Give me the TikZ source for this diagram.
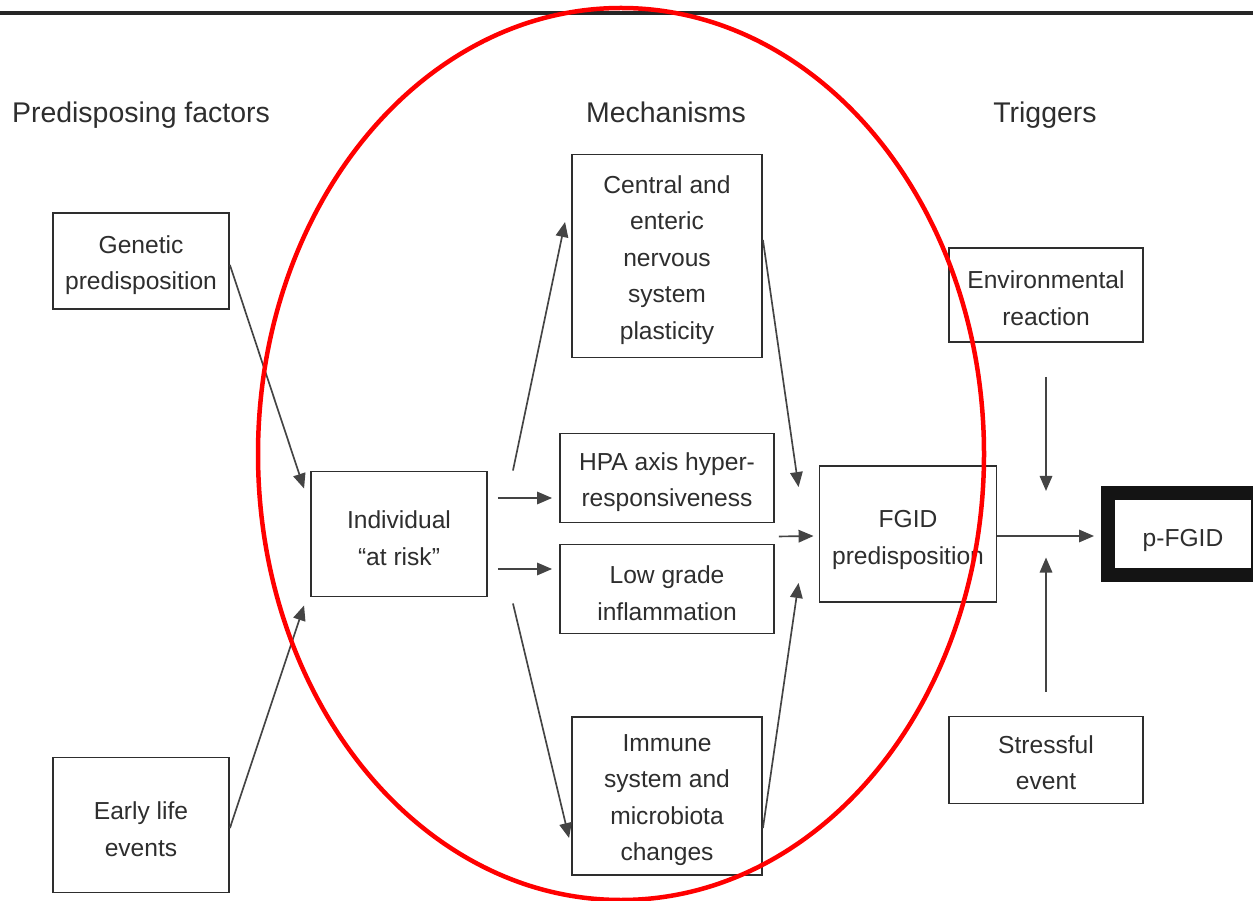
\documentclass[tikz,border=0pt]{standalone}
\usepackage{fontspec}
\setmainfont{Liberation Sans}
\usetikzlibrary{calc,arrows.meta}
\definecolor{ink}{HTML}{2E2E2E}
\definecolor{lin}{HTML}{444444}
\tikzset{
  box/.style={draw=ink, line width=1.1pt, inner sep=0pt},
  txt/.style={text=ink, align=center, inner sep=0pt, yshift=-0.08cm,
    font=\fontsize{14}{20.8}\selectfont},
  head/.style={text=ink, font=\fontsize{16.2}{20}\selectfont},
  arr/.style={draw=lin, line width=0.95pt, -{Triangle[length=0.3cm,width=0.25cm]}},
}
\begin{document}
\begin{tikzpicture}[x=0.02cm,y=-0.02cm]
\useasboundingbox (0,0) rectangle (1253,901);
\fill[white] (0,0) rectangle (1253,901);
% top rule
\draw[line width=0.08cm, black!85] (0,13) -- (1253,13);
% headers
\node[head] (h1) at (141,115) {Predisposing factors};
\node[head] (h2) at (666,112) {Mechanisms};
\node[head] (h3) at (1045,115) {Triggers};
% boxes
\node[box, minimum width=3.52cm, minimum height=1.92cm,
  label={[txt]center:{Genetic\\predisposition}}] (gen) at (141,261) {};
\node[box, minimum width=3.52cm, minimum height=2.70cm,
  label={[txt]center:{Early life\\events}}] (early) at (141,825) {};
\node[box, minimum width=3.52cm, minimum height=2.50cm,
  label={[txt]center:{Individual\\\char"201C at risk\char"201D}}] (ind) at (399,534) {};
\node[box, minimum width=3.80cm, minimum height=4.06cm,
  label={[txt]center:{Central and\\enteric\\nervous\\system\\plasticity}}] (cen) at (667,256) {};
\node[box, minimum width=4.28cm, minimum height=1.78cm,
  label={[txt]center:{HPA axis hyper-\\responsiveness}}] (hpa) at (667,478) {};
\node[box, minimum width=4.28cm, minimum height=1.78cm,
  label={[txt]center:{Low grade\\inflammation}}] (low) at (667,589) {};
\node[box, minimum width=3.80cm, minimum height=3.16cm,
  label={[txt]center:{Immune\\system and\\microbiota\\changes}}] (imm) at (667,796) {};
\node[box, minimum width=3.54cm, minimum height=2.72cm,
  label={[txt, yshift=-0.04cm]center:{FGID\\predisposition}}] (fgid) at (908,534) {};
\node[box, minimum width=3.88cm, minimum height=1.88cm,
  label={[txt, yshift=0.02cm]center:{Environmental\\reaction}}] (env) at (1046,295) {};
\node[box, minimum width=3.88cm, minimum height=1.74cm,
  label={[txt, yshift=0.03cm]center:{Stressful\\event}}] (str) at (1046,760) {};
\node[box, draw=black!92, line width=0.28cm, minimum width=3.0cm, minimum height=1.64cm, outer sep=0pt,
  label={[txt, yshift=-0.04cm]center:{p-FGID}}] (pf) at (1183,534) {};
% arrows
\draw[arr] ($(gen.east)+(0,4)$) -- ($(ind.north west)+(-6,18)$);
\draw[arr] ($(early.east)+(0,3)$) -- ($(ind.south west)+(-6,8)$);
\draw[arr] ($(ind.north east)+(25,0)$) -- ($(cen.west)+(-6,-34)$);
\draw[arr] ($(ind.east)+(10,-36)$) -- ($(hpa.west)+(-7,20)$);
\draw[arr] ($(ind.east)+(10,35)$) -- ($(low.west)+(-7,-20)$);
\draw[arr] ($(ind.south east)+(25,6)$) -- ($(imm.west)+(-2,42)$);
\draw[arr] ($(cen.east)+(0,-16)$) -- ($(fgid.north west)+(-20,22)$);
\draw[arr] ($(hpa.south east)+(4,13)$) -- ($(fgid.west)+(-5,2)$);
\draw[arr] ($(imm.east)+(0,32)$) -- ($(fgid.south west)+(-20,-20)$);
\draw[arr] ($(fgid.east)+(0,2)$) -- ($(pf.west)+(-14,2)$);
\coordinate (envend) at ($(env.south)+(0,148)$);
\coordinate (strend) at ($(str.north)+(0,-158)$);
\draw[arr] ($(env.south)+(0,34)$) -- (envend);
\draw[arr] ($(str.north)+(0,-24)$) -- (strend);
% red ellipse
\draw[red, line width=0.09cm] (621,454) ellipse [x radius=363, y radius=446];
\end{tikzpicture}
\end{document}
